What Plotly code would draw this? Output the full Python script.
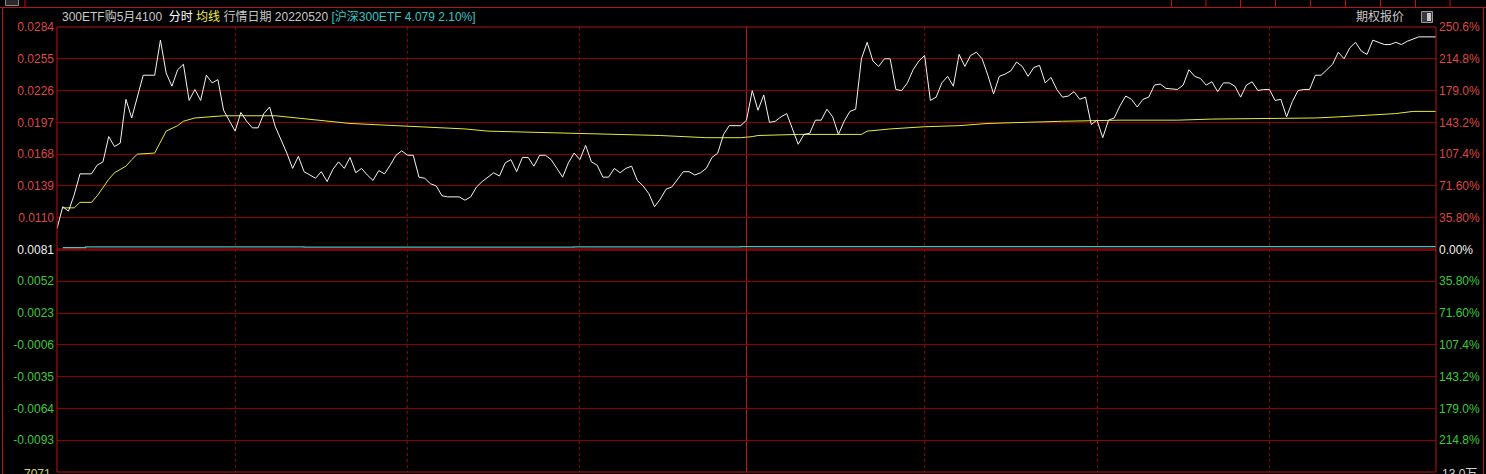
import plotly.graph_objects as go

# ---------------- data ----------------
PRE_CLOSE = 0.0081

price_min = [0, 1, 2, 3, 4, 6, 7, 8, 9, 10, 11, 12, 13, 15, 17, 18, 19, 20, 21, 22,
             23, 24, 25, 26, 27, 28, 29, 30, 31, 32, 33, 34, 35, 36, 37, 38, 39, 40, 41, 42,
             43, 45, 46, 47, 48, 49, 50, 51, 52, 53, 54, 55, 56, 57, 58, 59, 60, 61, 62, 63,
             64, 65, 66, 67, 68, 70, 71, 72, 73, 74, 75, 76, 77, 78, 79, 80, 81, 82, 83, 84,
             85, 86, 87, 88, 89, 90, 91, 92, 93, 94, 95, 96, 97, 98, 99, 100, 101, 102, 103, 104,
             105, 106, 107, 108, 109, 110, 111, 112, 113, 114, 115, 116, 117, 119, 120, 121, 122, 123, 124, 125,
             126, 127, 128, 129, 130, 131, 132, 133, 134, 135, 136, 137, 138, 139, 140, 141, 142, 143, 144, 145,
             146, 147, 148, 149, 150, 151, 152, 153, 154, 155, 156, 157, 158, 159, 160, 161, 162, 163, 164, 165,
             166, 167, 168, 169, 170, 171, 172, 173, 174, 175, 176, 177, 178, 179, 180, 181, 182, 183, 184, 185,
             186, 187, 188, 189, 190, 191, 192, 193, 195, 196, 197, 198, 199, 200, 201, 202, 203, 204, 205, 206,
             207, 208, 209, 210, 211, 212, 213, 214, 215, 216, 217, 218, 219, 220, 221, 222, 223, 224, 225, 226,
             227, 228, 229, 230, 231, 232, 233, 234, 235, 236, 237, 240]

price_val = [0.0100, 0.0120, 0.0116, 0.0131, 0.0150, 0.0150, 0.0158, 0.0161, 0.0184, 0.0175,
             0.0178, 0.0218, 0.0201, 0.0240, 0.0240, 0.0272, 0.0242, 0.0230, 0.0245, 0.0250,
             0.0217, 0.0227, 0.0217, 0.0240, 0.0233, 0.0236, 0.0208, 0.0198, 0.0189, 0.0206,
             0.0198, 0.0192, 0.0192, 0.0205, 0.0211, 0.0193, 0.0181, 0.0169, 0.0155, 0.0166,
             0.0152, 0.0146, 0.0152, 0.0143, 0.0154, 0.0161, 0.0155, 0.0165, 0.0151, 0.0155,
             0.0149, 0.0144, 0.0153, 0.0150, 0.0158, 0.0167, 0.0171, 0.0167, 0.0167, 0.0147,
             0.0146, 0.0141, 0.0139, 0.0130, 0.0129, 0.0129, 0.0126, 0.0129, 0.0138, 0.0143,
             0.0147, 0.0151, 0.0148, 0.0160, 0.0163, 0.0152, 0.0165, 0.0165, 0.0157, 0.0167,
             0.0167, 0.0163, 0.0155, 0.0147, 0.0160, 0.0169, 0.0163, 0.0176, 0.0161, 0.0158,
             0.0147, 0.0147, 0.0155, 0.0151, 0.0155, 0.0157, 0.0144, 0.0139, 0.0132, 0.0120,
             0.0127, 0.0136, 0.0138, 0.0145, 0.0152, 0.0152, 0.0149, 0.0151, 0.0155, 0.0165,
             0.0169, 0.0186, 0.0194, 0.0194, 0.0199, 0.0226, 0.0208, 0.0222, 0.0197, 0.0198,
             0.0202, 0.0205, 0.0190, 0.0177, 0.0186, 0.0187, 0.0199, 0.0199, 0.0209, 0.0202,
             0.0186, 0.0198, 0.0207, 0.0209, 0.0255, 0.0270, 0.0253, 0.0248, 0.0255, 0.0255,
             0.0227, 0.0226, 0.0233, 0.0245, 0.0253, 0.0258, 0.0217, 0.0220, 0.0233, 0.0239,
             0.0230, 0.0259, 0.0248, 0.0258, 0.0261, 0.0255, 0.0240, 0.0223, 0.0239, 0.0241,
             0.0244, 0.0252, 0.0248, 0.0239, 0.0247, 0.0249, 0.0233, 0.0238, 0.0227, 0.0220,
             0.0221, 0.0225, 0.0218, 0.0220, 0.0195, 0.0199, 0.0183, 0.0199, 0.0201, 0.0212,
             0.0221, 0.0218, 0.0211, 0.0218, 0.0220, 0.0231, 0.0232, 0.0228, 0.0227, 0.0231,
             0.0245, 0.0239, 0.0237, 0.0231, 0.0234, 0.0225, 0.0233, 0.0233, 0.0230, 0.0220,
             0.0231, 0.0234, 0.0226, 0.0227, 0.0227, 0.0217, 0.0218, 0.0202, 0.0216, 0.0226,
             0.0227, 0.0227, 0.0240, 0.0240, 0.0245, 0.0250, 0.0261, 0.0255, 0.0265, 0.0270,
             0.0262, 0.0259, 0.0272, 0.0270, 0.0268, 0.0268, 0.0270, 0.0268, 0.0271, 0.0273,
             0.0275, 0.0275]

avg_min = [1, 3, 4, 6, 7, 8, 9, 10, 12, 13, 14, 17, 18, 19, 21, 22, 24, 26, 29, 38,
           40, 45, 48, 51, 59, 64, 71, 75, 82, 90, 99, 105, 113, 119, 121, 122, 129, 134, 140, 141,
           145, 151, 157, 162, 168, 175, 185, 195, 201, 219, 223, 226, 229, 233, 236, 240]
avg_val = [0.0119, 0.0119, 0.0124, 0.0124, 0.0130, 0.0138, 0.0145, 0.0151, 0.0157, 0.0163,
           0.0168, 0.0169, 0.0179, 0.0189, 0.0194, 0.0198, 0.0201, 0.0202, 0.0203, 0.0203,
           0.0202, 0.0199, 0.0198, 0.0196, 0.0194, 0.0193, 0.0191, 0.0189, 0.0188, 0.0187,
           0.0186, 0.0185, 0.0183, 0.0183, 0.0184, 0.0185, 0.0186, 0.0186, 0.0186, 0.0189,
           0.0191, 0.0193, 0.0194, 0.0196, 0.0197, 0.0198, 0.0199, 0.0199, 0.0200, 0.0201,
           0.0202, 0.0203, 0.0204, 0.0205, 0.0207, 0.0207]

# 300ETF line, drawn as % change on the same percentage scale
etf_min = [1, 4, 5, 42, 43, 90, 118, 119, 240]
etf_pct = [2.2, 2.2, 2.9, 2.9, 2.6, 2.9, 2.9, 3.3, 3.3]

grid_minutes = [31, 61, 91, 151, 181, 211]
midday_minute = 120

left_ticks = [0.0284, 0.0255, 0.0226, 0.0197, 0.0168, 0.0139, 0.0110, 0.0081,
              0.0052, 0.0023, -0.0006, -0.0035, -0.0064, -0.0093]
left_labels = ["0.0284", "0.0255", "0.0226", "0.0197", "0.0168", "0.0139", "0.0110", "0.0081",
               "0.0052", "0.0023", "-0.0006", "-0.0035", "-0.0064", "-0.0093"]
right_labels = ["250.6%", "214.8%", "179.0%", "143.2%", "107.4%", "71.60%", "35.80%", "0.00%",
                "35.80%", "71.60%", "107.4%", "143.2%", "179.0%", "214.8%"]
Y_RANGE = [-0.0122, 0.0284]

# ---------------- styling ----------------
W, H = 1486, 474
ML, MR, MT, MB = 57, 50, 27, 2
PW, PH = W - ML - MR, H - MT - MB
RED_TXT, GRN_TXT, WHT_TXT = "#dc4646", "#3cc83c", "#f0f0f0"
GRID = "#8c0000"
BORDER = "#b41414"
FONT = "Liberation Sans, Arial, Noto Sans CJK SC"


def px_x(px):
    return (px - ML) / PW


def px_y(py):
    return (H - MB - py) / PH


def colorize(labels, ticks):
    out = []
    for lab, t in zip(labels, ticks):
        c = WHT_TXT if abs(t - PRE_CLOSE) < 1e-9 else (RED_TXT if t > PRE_CLOSE else GRN_TXT)
        out.append(f"<span style='color:{c}'>{lab}</span>")
    return out


fig = go.Figure()
fig.add_trace(go.Scatter(x=etf_min, y=[PRE_CLOSE * (1 + p / 100) for p in etf_pct],
                         mode="lines", line=dict(color="#40c4c4", width=1.3, shape="hv"),
                         hoverinfo="skip"))
fig.add_trace(go.Scatter(x=avg_min, y=avg_val, mode="lines",
                         line=dict(color="#e8e83c", width=1), hoverinfo="skip"))
fig.add_trace(go.Scatter(x=price_min, y=price_val, mode="lines",
                         line=dict(color="#f4f4f4", width=1), hoverinfo="skip"))
fig.add_trace(go.Scatter(x=[0], y=[PRE_CLOSE], yaxis="y2", mode="markers",
                         marker=dict(opacity=0), hoverinfo="skip"))

shapes = []
# 0.0081 pre-close line
shapes.append(dict(type="line", xref="paper", yref="y", x0=0, x1=1, y0=PRE_CLOSE, y1=PRE_CLOSE,
                   line=dict(color="#c81414", width=2), layer="between"))
# midday solid line
shapes.append(dict(type="line", xref="x", yref="paper", x0=midday_minute, x1=midday_minute,
                   y0=0, y1=1, line=dict(color="#c01414", width=1), layer="between"))
# plot border
shapes.append(dict(type="rect", xref="paper", yref="paper", x0=0, x1=1, y0=0, y1=1,
                   line=dict(color=BORDER, width=1), layer="above"))
# outer frame
shapes.append(dict(type="line", xref="paper", yref="paper", x0=px_x(0), x1=px_x(W),
                   y0=px_y(7.5), y1=px_y(7.5), line=dict(color=BORDER, width=1)))
shapes.append(dict(type="line", xref="paper", yref="paper", x0=px_x(2.5), x1=px_x(2.5),
                   y0=px_y(7.5), y1=px_y(H), line=dict(color=BORDER, width=1)))
shapes.append(dict(type="line", xref="paper", yref="paper", x0=px_x(1483.5), x1=px_x(1483.5),
                   y0=px_y(7.5), y1=px_y(H), line=dict(color=BORDER, width=1)))
# toolbar separators (top strip)
for sx in [25, 1171.5, 1206, 1240.5, 1275.5, 1310.5, 1345.5, 1380.5, 1415.5, 1450]:
    shapes.append(dict(type="line", xref="paper", yref="paper", x0=px_x(sx), x1=px_x(sx),
                       y0=px_y(0), y1=px_y(7), line=dict(color=BORDER, width=1)))
# small toolbar icon at top-left
shapes.append(dict(type="rect", xref="paper", yref="paper", x0=px_x(5.5), x1=px_x(18.5),
                   y0=px_y(5.5), y1=px_y(-2), line=dict(color="#8a8a8a", width=1),
                   fillcolor="#2a2a2a"))
# small icon box next to 期权报价
shapes.append(dict(type="rect", xref="paper", yref="paper", x0=px_x(1421.5), x1=px_x(1432.5),
                   y0=px_y(22.5), y1=px_y(11.5), line=dict(color="#9a9a9a", width=1),
                   fillcolor="#3a3a3a"))
shapes.append(dict(type="rect", xref="paper", yref="paper", x0=px_x(1427), x1=px_x(1431),
                   y0=px_y(21), y1=px_y(13), line=dict(width=0), fillcolor="#c8c8c8"))

annotations = [
    dict(xref="paper", yref="paper", x=px_x(60), y=px_y(16), xanchor="left", yanchor="middle",
         showarrow=False, font=dict(family=FONT, size=12, color="#c8c8c8"),
         text="300ETF购5月4100 &nbsp;<span style='color:#ffffff'>分时</span> "
              "<span style='color:#f0f040'>均线</span> 行情日期 20220520 "
              "<span style='color:#3cc4c4'>[沪深300ETF 4.079 2.10%]</span>"),
    dict(xref="paper", yref="paper", x=px_x(1406), y=px_y(17), xanchor="right", yanchor="middle",
         showarrow=False, font=dict(family=FONT, size=12, color="#c8c8c8"), text="期权报价"),
    dict(xref="paper", yref="paper", x=px_x(53), y=px_y(465), xanchor="right", yanchor="top",
         showarrow=False, font=dict(family=FONT, size=12, color="#d2d264"), text="7071"),
    dict(xref="paper", yref="paper", x=px_x(1440), y=px_y(465), xanchor="left", yanchor="top",
         showarrow=False, font=dict(family=FONT, size=12, color="#d0d0d0"), text="13.0万"),
]

fig.update_layout(
    width=W, height=H,
    margin=dict(l=ML, r=MR, t=MT, b=MB, pad=0),
    paper_bgcolor="#000000", plot_bgcolor="#000000",
    showlegend=False,
    xaxis=dict(range=[0, 240], tickvals=grid_minutes, showticklabels=False, ticks="",
               showgrid=True, gridcolor=GRID, griddash="dot", gridwidth=1,
               zeroline=False, showline=False, fixedrange=True),
    yaxis=dict(range=Y_RANGE, tickvals=left_ticks, ticktext=colorize(left_labels, left_ticks),
               showgrid=True, gridcolor=GRID, gridwidth=1, zeroline=False, showline=False,
               ticks="", tickfont=dict(family=FONT, size=12), ticklabelstandoff=2),
    yaxis2=dict(range=Y_RANGE, overlaying="y", side="right", tickvals=left_ticks,
                ticktext=colorize(right_labels, left_ticks), showgrid=False, zeroline=False,
                showline=False, ticks="", tickfont=dict(family=FONT, size=12),
                ticklabelstandoff=2),
    shapes=shapes,
    annotations=annotations,
)

fig.write_html("out.html",
               config={"displayModeBar": False},
               post_script="document.body.style.margin='0px';"
                           "document.body.style.background='#000000';")
